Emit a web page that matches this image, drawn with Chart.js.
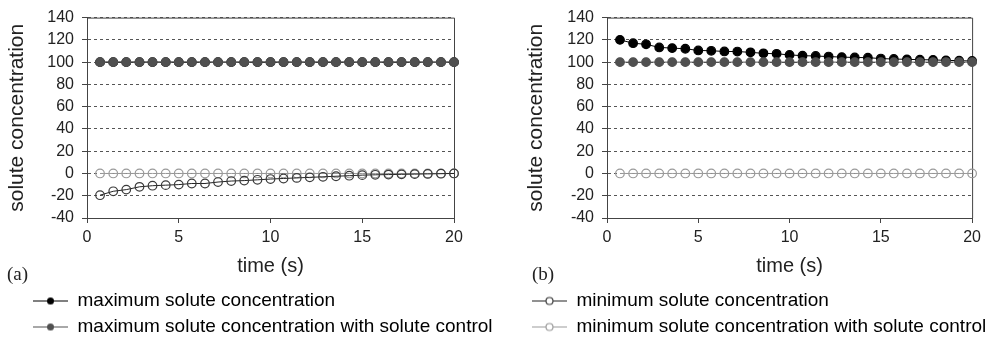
<!DOCTYPE html>
<html lang="en">
<head>
<meta charset="UTF-8">
<title>Solute concentration vs time</title>
<script src="https://cdn.jsdelivr.net/npm/chart.js"></script>
<style>
    body { margin: 0; background: #fff; }
    #wrap { position: relative; width: 986px; height: 352px; }
    .panel { position: absolute; top: 0; height: 352px; }
    .tag {
        position: absolute;
        top: 264px;
        font: 19px "Liberation Serif", "Times New Roman", serif;
        line-height: 20px;
        color: #222;
    }
</style>
</head>
<body>
<div id="wrap">
    <div class="panel" style="left:0;width:493px"><canvas id="chartA"></canvas></div>
    <div class="panel" style="left:493px;width:493px"><canvas id="chartB"></canvas></div>
    <span class="tag" style="left:7px">(a)</span>
    <span class="tag" style="left:532px">(b)</span>
</div>

<script>
// time points (s)
const timeS = [0.71, 1.43, 2.14, 2.86, 3.57, 4.29, 5.00, 5.71, 6.43, 7.14,
               7.86, 8.57, 9.29, 10.00, 10.71, 11.43, 12.14, 12.86, 13.57, 14.29,
               15.00, 15.71, 16.43, 17.14, 17.86, 18.57, 19.29, 20.00];

// panel (a)
const aMax     = [100, 100, 100, 100, 100, 100, 100, 100, 100, 100, 100, 100, 100, 100,
                  100, 100, 100, 100, 100, 100, 100, 100, 100, 100, 100, 100, 100, 100];
const aMaxCtrl = [100, 100, 100, 100, 100, 100, 100, 100, 100, 100, 100, 100, 100, 100,
                  100, 100, 100, 100, 100, 100, 100, 100, 100, 100, 100, 100, 100, 100];
const aMin     = [-19.5, -16, -14.5, -12, -11, -10.5, -10, -9, -9, -7.7, -6.8, -6.4, -5.7, -5,
                  -4.5, -4, -3.5, -3, -2.5, -2, -1.5, -1.2, -1, -0.8, -0.6, -0.4, -0.2, 0];
const aMinCtrl = [0, 0, 0, 0, 0, 0, 0, 0, 0, 0, 0, 0, 0, 0,
                  0, 0, 0, 0, 0, 0, 0, 0, 0, 0, 0, 0, 0, 0];

// panel (b)
const bMax     = [120, 117, 116, 113.2, 112.6, 112, 110.5, 110.2, 109.6, 109.5, 108.8, 107.9, 107.5, 106.5,
                  105.8, 105.5, 105, 104.5, 104.2, 104, 103.2, 102.8, 102.5, 102.2, 102, 101.6, 101.3, 101];
const bMaxCtrl = [100, 100, 100, 100, 100, 100, 100, 100, 100, 100, 100, 100, 100, 100,
                  100, 100, 100, 100, 100, 100, 100, 100, 100, 100, 100, 100, 100, 100];
const bMinCtrl = [0, 0, 0, 0, 0, 0, 0, 0, 0, 0, 0, 0, 0, 0,
                  0, 0, 0, 0, 0, 0, 0, 0, 0, 0, 0, 0, 0, 0];

const xTicks = [0, 5, 10, 15, 20];
const yTicks = [-40, -20, 0, 20, 40, 60, 80, 100, 120, 140];

const seriesNames = ['maximum solute concentration',
                     'maximum solute concentration with solute control',
                     'minimum solute concentration',
                     'minimum solute concentration with solute control'];

// line / marker look per series
const looks = [
    { line: '#000000', edge: '#000000', fill: '#000000' },
    { line: '#505050', edge: '#505050', fill: '#505050' },
    { line: '#222222', edge: '#3a3a3a', fill: 'rgba(0,0,0,0)' },
    { line: '#9a9a9a', edge: '#9a9a9a', fill: 'rgba(0,0,0,0)' }
];

const FONT = '"Liberation Sans", Arial, sans-serif';
const INK = '#222';
const AXIS = '#444';

function series(idx, values, order) {
    const lk = looks[idx];
    return {
        label: seriesNames[idx],
        data: timeS.map((t, i) => ({ x: t, y: values[i] })),
        borderColor: lk.line,
        borderWidth: 1,
        pointRadius: 4.3,
        pointBorderWidth: 1.2,
        pointBorderColor: lk.edge,
        pointBackgroundColor: lk.fill,
        tension: 0,
        clip: false,
        order: order
    };
}

// little "—o—" image for the legend
function markerImage(idx, blank, len) {
    const lk = looks[idx];
    const c = document.createElement('canvas');
    c.width = blank + len;
    c.height = 12;
    const g = c.getContext('2d');
    g.strokeStyle = lk.line;
    g.lineWidth = 1.2;
    g.beginPath();
    g.moveTo(blank, 6.5);
    g.lineTo(blank + len, 6.5);
    g.stroke();
    g.beginPath();
    g.arc(blank + len / 2, 6.5, 3.5, 0, Math.PI * 2);
    if (lk.fill !== 'rgba(0,0,0,0)') {
        g.fillStyle = lk.fill;
        g.fill();
    } else {
        g.fillStyle = '#fff';
        g.fill();
        g.strokeStyle = lk.edge;
        g.stroke();
    }
    return c;
}

const framePlugin = {
    id: 'frame',
    beforeDatasetsDraw(chart) {
        const { ctx, chartArea: a } = chart;
        ctx.save();
        ctx.strokeStyle = AXIS;
        ctx.lineWidth = 1;
        ctx.beginPath();
        ctx.moveTo(a.left, a.top + 0.5);
        ctx.lineTo(a.right + 0.5, a.top + 0.5);
        ctx.lineTo(a.right + 0.5, a.bottom);
        ctx.stroke();
        ctx.restore();
    }
};

function makeChart(id, datasets, legendIdx, cfg) {
    const imgs = legendIdx.map(i => markerImage(i, cfg.blank, cfg.len));
    return new Chart(document.getElementById(id), {
        type: 'line',
        data: { datasets },
        options: {
            responsive: true,
            maintainAspectRatio: false,
            animation: false,
            layout: { padding: { left: cfg.padLeft, right: 0, top: 11, bottom: 6 } },
            plugins: {
                tooltip: { enabled: false },
                legend: {
                    position: 'bottom',
                    align: 'start',
                    labels: {
                        usePointStyle: true,
                        pointStyleWidth: cfg.blank + cfg.len,
                        padding: 7,
                        color: INK,
                        font: { family: FONT, size: 19 },
                        generateLabels: () => legendIdx.map((i, k) => ({
                            text: seriesNames[i],
                            pointStyle: imgs[k],
                            fillStyle: looks[i].fill,
                            strokeStyle: looks[i].line,
                            lineWidth: 0,
                            hidden: false
                        }))
                    }
                }
            },
            scales: {
                x: {
                    type: 'linear',
                    min: 0,
                    max: 20,
                    afterBuildTicks: s => { s.ticks = xTicks.map(v => ({ value: v })); },
                    afterFit: s => { s.height = 66; },
                    grid: { drawOnChartArea: false, tickLength: 5, tickColor: AXIS },
                    border: { color: AXIS, width: 1 },
                    ticks: { color: INK, padding: 5, font: { family: FONT, size: 16 } },
                    title: {
                        display: true,
                        text: 'time (s)',
                        color: INK,
                        font: { family: FONT, size: 20 },
                        padding: { top: 4, bottom: 6 }
                    }
                },
                y: {
                    min: -40,
                    max: 140,
                    afterBuildTicks: s => { s.ticks = yTicks.map(v => ({ value: v })); },
                    afterFit: s => { s.width = cfg.yWidth; },
                    grid: { color: '#555', lineWidth: 1, tickLength: 5, tickColor: AXIS },
                    border: { color: AXIS, width: 1, dash: [3, 3] },
                    ticks: { color: INK, padding: 8, font: { family: FONT, size: 16 } },
                    title: {
                        display: true,
                        text: 'solute concentration',
                        color: INK,
                        font: { family: FONT, size: 21 },
                        padding: { top: 5, bottom: 0 }
                    }
                },
                // empty right-hand scale, only keeps a gap between plot and canvas edge
                gap: {
                    position: 'right',
                    afterFit: s => { s.width = cfg.rightGap; },
                    grid: { display: false },
                    border: { display: false },
                    ticks: { display: false }
                }
            }
        },
        plugins: [framePlugin]
    });
}

makeChart('chartA', [
    series(1, aMaxCtrl, 1),
    series(0, aMax, 2),
    series(2, aMin, 3),
    series(3, aMinCtrl, 4)
], [0, 1], { padLeft: 0, rightGap: 39, yWidth: 87, blank: 26, len: 35 });

makeChart('chartB', [
    series(0, bMax, 2),
    series(1, bMaxCtrl, 1),
    series(3, bMinCtrl, 3)
], [2, 3], { padLeft: 26, rightGap: 10, yWidth: 88, blank: 6, len: 35 });
</script>
</body>
</html>
